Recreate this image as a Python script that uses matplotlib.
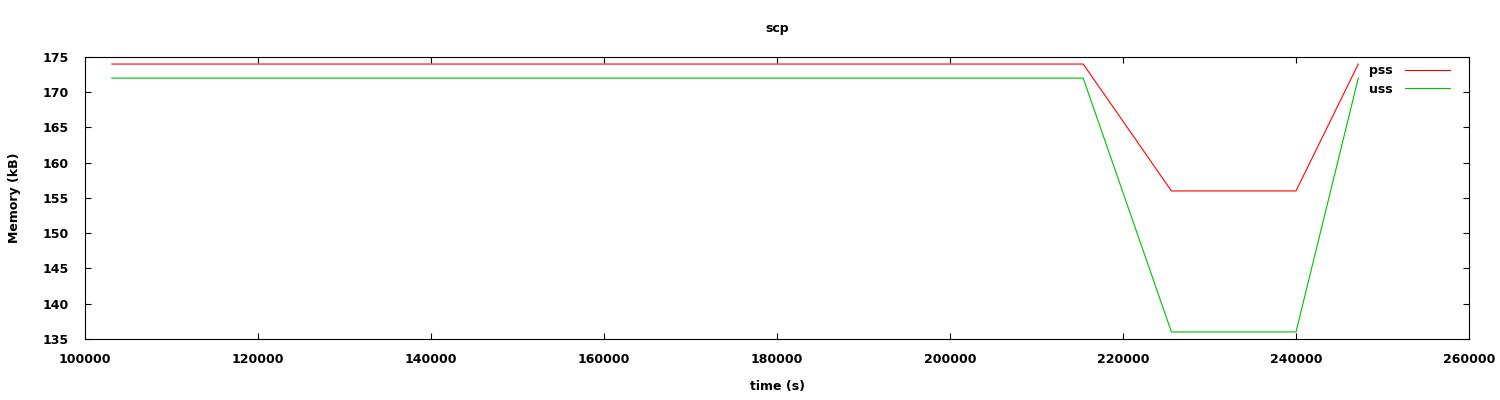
import matplotlib
matplotlib.use("Agg")
import matplotlib.pyplot as plt

time_s = [103100, 215400, 225600, 240000, 247200]
pss = [174, 174, 156, 156, 174]
uss = [172, 172, 136, 136, 172]
xticks = [100000, 120000, 140000, 160000, 180000, 200000, 220000, 240000, 260000]
yticks = [135, 140, 145, 150, 155, 160, 165, 170, 175]

plt.rcParams['font.family'] = ['DejaVu Sans']
fig = plt.figure(figsize=(15, 4), dpi=100)
ax = fig.add_axes([85/1500, 61/400, 1384/1500, 282/400])
ax.plot(time_s, pss, color='#ff0000', lw=0.8, label='pss')
ax.plot(time_s, uss, color='#00c000', lw=0.8, label='uss')
ax.set_xlim(100000, 260000)
ax.set_ylim(135, 175)
ax.set_xticks(xticks)
ax.set_yticks(yticks)
ax.tick_params(direction='in', length=4, width=0.8, top=True, right=True,
               labelsize=9)
ax.tick_params(axis='x', pad=10)
ax.tick_params(axis='y', pad=12)
for lbl in ax.get_xticklabels() + ax.get_yticklabels():
    lbl.set_fontweight('bold')
for s in ax.spines.values():
    s.set_linewidth(0.8)
ax.set_title('scp', fontsize=9, fontweight='bold', pad=18)
ax.set_xlabel('time (s)', fontsize=9, fontweight='bold', labelpad=10)
ax.set_ylabel('Memory (kB)', fontsize=9, fontweight='bold', labelpad=15)
leg = ax.legend(loc='upper right', bbox_to_anchor=(0.9863, 0.975),
                frameon=False, markerfirst=False, borderpad=0, borderaxespad=0,
                prop={'size': 9, 'weight': 'bold'}, handlelength=3.6,
                labelspacing=0.45, handletextpad=1.0)
fig.savefig('out.png', dpi=100)
